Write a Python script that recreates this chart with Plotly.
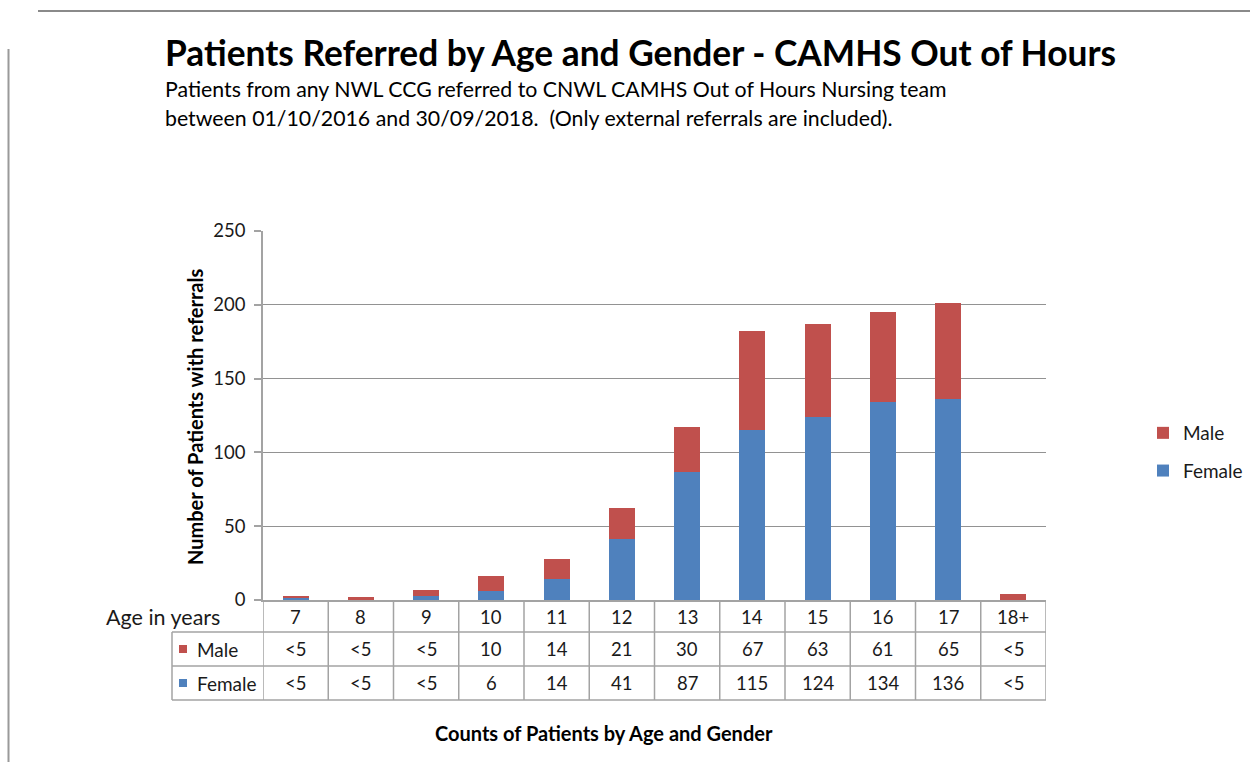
import plotly.graph_objects as go

# ---- data ----
ages = ["7", "8", "9", "10", "11", "12", "13", "14", "15", "16", "17", "18+"]
female = [2, 0, 3, 6, 14, 41, 87, 115, 124, 134, 136, 0]
male = [1, 2, 4, 10, 14, 21, 30, 67, 63, 61, 65, 4]
male_labels = ["<5", "<5", "<5", "10", "14", "21", "30", "67", "63", "61", "65", "<5"]
female_labels = ["<5", "<5", "<5", "6", "14", "41", "87", "115", "124", "134", "136", "<5"]

title = "Patients Referred by Age and Gender - CAMHS Out of Hours"
subtitle1 = "Patients from any NWL CCG referred to CNWL CAMHS Out of Hours Nursing team"
subtitle2 = "between 01/10/2016 and 30/09/2018.  (Only external referrals are included)."
y_title = "Number of Patients with referrals"
x_title = "Counts of Patients by Age and Gender"

BLUE = "#4F81BD"
RED = "#C0504D"
GRID = "#929292"
TBL = "#a3a3a3"
FONT = "Lato"
TXT = "#1a1a1a"

W, H = 1250, 762
def px(x):
    return x / W
def py(y):
    return 1 - y / H

fig = go.Figure()
fig.add_trace(go.Bar(x=ages, y=female, name="Female", marker_color=BLUE,
                     marker_line_width=0, legendgroup="f", legendrank=2))
fig.add_trace(go.Bar(x=ages, y=male, name="Male", marker_color=RED,
                     marker_line_width=0, legendgroup="m", legendrank=1))

annotations = []
shapes = []

def note(text, x, y, size, xanchor="left", bold=False, angle=0, color="#000"):
    annotations.append(dict(text=f"<b>{text}</b>" if bold else text, x=px(x), y=py(y),
                            xref="paper", yref="paper", xanchor=xanchor, yanchor="middle",
                            showarrow=False, textangle=angle,
                            font=dict(family=FONT, size=size, color=color)))

# titles
note(title, 163, 52, 35.3, bold=True)
note(subtitle1, 163, 89, 21.3)
note(subtitle2, 163, 118, 21.3)
note(y_title, 195, 417, 20, xanchor="center", bold=True, angle=-90)
note(x_title, 604, 733, 20, xanchor="center", bold=True)

# data table
row_y = [617, 649, 683]
note("Age in years", 104, row_y[0], 21.5, color=TXT)
note("Male", 195, row_y[1], 19, color=TXT)
note("Female", 195, row_y[2], 19, color=TXT)
for sq_y, col in ((649, RED), (683, BLUE)):
    shapes.append(dict(type="rect", xref="paper", yref="paper",
                       x0=px(179), x1=px(187), y0=py(sq_y - 4), y1=py(sq_y + 4),
                       fillcolor=col, line_width=0))

for i, a in enumerate(ages):
    for row, lab in ((0, a), (1, male_labels[i]), (2, female_labels[i])):
        annotations.append(dict(text=lab, x=i, y=py(row_y[row]), xref="x", yref="paper",
                                xanchor="center", yanchor="middle", showarrow=False,
                                font=dict(family=FONT, size=18.5, color=TXT)))

# table grid lines
n = len(ages)
for k in range(n + 1):
    shapes.append(dict(type="line", xref="x", yref="paper", x0=k - 0.5, x1=k - 0.5,
                       y0=py(700), y1=py(600), line=dict(color=TBL, width=1.5)))
for yy in (632, 666, 700):
    shapes.append(dict(type="line", xref="paper", yref="paper", x0=px(172), x1=px(1046),
                       y0=py(yy), y1=py(yy), line=dict(color=TBL, width=1.5)))
shapes.append(dict(type="line", xref="paper", yref="paper", x0=px(172), x1=px(172),
                   y0=py(700), y1=py(632), line=dict(color=TBL, width=1.5)))

# frame lines of the page
shapes.append(dict(type="line", xref="paper", yref="paper", x0=px(38), x1=1,
                   y0=py(11), y1=py(11), line=dict(color="#8a8a8a", width=2)))
shapes.append(dict(type="line", xref="paper", yref="paper", x0=px(8.5), x1=px(8.5),
                   y0=0, y1=py(49), line=dict(color="#9a9a9a", width=2)))

fig.update_layout(
    width=W, height=H,
    margin=dict(l=0, r=0, t=0, b=0, autoexpand=False),
    paper_bgcolor="white", plot_bgcolor="white",
    barmode="stack", bargap=0.6,
    font=dict(family=FONT, color=TXT),
    xaxis=dict(domain=[px(263), px(1046)], range=[-0.5, n - 0.5], type="category",
               showticklabels=False, ticks="", showgrid=False, showline=True,
               linecolor=TBL, linewidth=1.5, fixedrange=True, automargin=False),
    yaxis=dict(domain=[py(600), py(231)], range=[0, 250], dtick=50, showgrid=True,
               gridcolor=GRID, gridwidth=1.2, showline=True, linecolor=TBL, linewidth=1.5,
               ticks="outside", ticklen=7, tickcolor=TBL, tickwidth=1.5,
               ticklabelstandoff=5, zeroline=False, automargin=False,
               tickfont=dict(family=FONT, size=18.5, color=TXT)),
    showlegend=True,
    legend=dict(x=px(1143), y=py(414), xanchor="left", yanchor="top",
                traceorder="grouped", tracegroupgap=10,
                font=dict(family=FONT, size=19, color=TXT), bgcolor="rgba(0,0,0,0)",
                itemwidth=30),
    annotations=annotations, shapes=shapes,
)

fig.write_html("out.html", config={"displayModeBar": False},
               post_script="document.body.style.margin='0';")
